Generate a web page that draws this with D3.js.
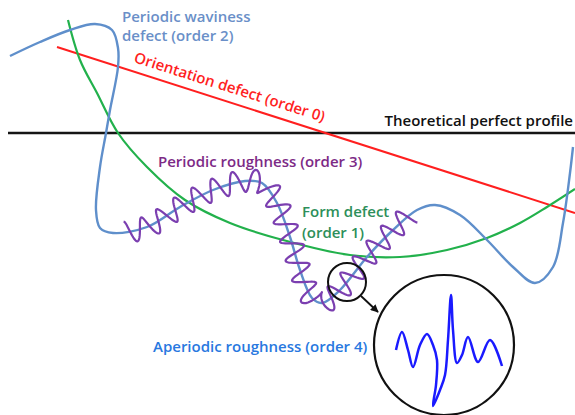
<!DOCTYPE html>
<html lang="en">
<head>
	<meta charset="UTF-8">
	<title>Profile defects</title>
	<style>
		body { margin: 0; background: #fff; }
		.lbl {
			font-family: "Open Sans", Lato, sans-serif;
			font-weight: 600;
			font-size: 15px;
		}
	</style>
	<script src="https://d3js.org/d3.v7.min.js"></script>
</head>
<body>
	<script type="text/javascript">

		// profile units: x along the surface, y = deviation from the theoretical profile
		var theoretical = [[1.6, 0], [115, 0]];
		var orientation = [[11.4, 17.2], [115, -16]];
		var form = [[13.6, 22.6], [16, 14.6], [19.4, 8], [23.6, 0], [29.4, -6.8], [37, -13.4],
			[46, -18], [56.6, -21.4], [70, -24.4], [80, -24.8], [89.4, -23.4], [97.4, -21],
			[104, -18], [109.4, -14.8], [115, -11.2]];
		var waviness = [[2, 15.4], [8, 18.2], [14, 20.6], [19, 21.8], [22.4, 20.6], [23.6, 17],
			[23.6, 13.2], [22, 4.6], [21.2, 0], [20, -6.8], [19.2, -15.4], [20, -19],
			[22.6, -20], [29.4, -18.8], [36, -14.8], [42.6, -11.4], [49, -9.6], [52.4, -10],
			[55.4, -14], [58, -20.8], [60, -27.4], [62.4, -33], [64.4, -34], [68, -31.4],
			[73.4, -24.8], [78.6, -19.4], [83.4, -15.4], [87, -14.4], [92, -16.4], [97.4, -21.4],
			[102.6, -26.8], [107, -30], [110.6, -26.8], [112.6, -18], [114, -8], [114.6, -2.8]];
		// periodic roughness rides on the waviness between these two points
		var roughStart = [25, -19.6],
			roughEnd = [82.4, -16.2],
			roughCycles = 20.5,
			roughAmp = 2.2;
		var aperiodic = [[79.2, -43.4], [80.4, -39.8], [81.6, -43.4], [82.6, -46.8], [84, -42.4],
			[85.4, -40.2], [86.6, -42.4], [87.4, -45.4], [87.2, -50.4], [86.6, -54.6], [88, -51.4],
			[89, -48.4], [89.6, -41.4], [90.2, -32.4], [90.6, -39.4], [91.4, -46], [92.4, -44.4],
			[93.6, -40.8], [95.6, -45.8], [98, -41.4], [100.4, -46.6]];
		var lensSmall = {c: [69.4, -29.8], r: 3.8};
		var lensBig = {c: [88.8, -42.4], r: 14};
		var arrow = [[72.2, -32.6], [75.6, -35.8]];

		var labels = [
			{t: "Periodic waviness", p: [24.4, 22.2], col: "#6a8fc8"},
			{t: "defect (order 2)", p: [24.4, 18.4], col: "#6a8fc8"},
			{t: "Theoretical perfect profile", p: [114.6, 1.4], col: "#111", end: true},
			{t: "Orientation defect (order 0)", p: [26.6, 14.2], col: "#ff1f1f", rot: 17.5},
			{t: "Periodic roughness (order 3)", p: [31.6, -6.8], col: "#7d2a86"},
			{t: "Form defect", p: [60.4, -16.7], col: "#2d8f5a"},
			{t: "(order 1)", p: [60.4, -20.9], col: "#2d8f5a"},
			{t: "Aperiodic roughness (order 4)", p: [30.6, -43.8], col: "#2878e0"}
		];

		const w = 575,
			  h = 415;

		const svg = d3.select("body")
			.append("svg")
			.attr("width", w)
			.attr("height", h);

		var x = d3.scaleLinear().domain([0, 115]).range([0, w]);
		var y = d3.scaleLinear().domain([26.6, -56.4]).range([0, h]);

		var line = d3.line().x(d => x(d[0])).y(d => y(d[1]));
		var smooth = d3.line().x(d => x(d[0])).y(d => y(d[1])).curve(d3.curveCatmullRom.alpha(0.5));

		svg.append("defs").append("marker")
			.attr("id", "head")
			.attr("viewBox", "0 0 10 10")
			.attr("refX", 9).attr("refY", 5)
			.attr("markerUnits", "userSpaceOnUse")
			.attr("markerWidth", 8).attr("markerHeight", 8)
			.attr("orient", "auto")
			.append("path").attr("d", "M0,0 L10,5 L0,10 z").attr("fill", "#111");

		svg.append("path").attr("d", line(theoretical))
			.attr("stroke", "#151515").attr("stroke-width", 2.5).attr("fill", "none");

		svg.append("path").attr("d", line(orientation))
			.attr("stroke", "#ff1f1f").attr("stroke-width", 2).attr("fill", "none");

		svg.append("path").attr("d", smooth(form))
			.attr("stroke", "#22b14c").attr("stroke-width", 2.2).attr("fill", "none");

		var wavy = svg.append("path").attr("d", smooth(waviness))
			.attr("stroke", "#5f8fcb").attr("stroke-width", 2.4).attr("fill", "none");

		// roughness: sine offset along the normal of the waviness path
		var node = wavy.node(),
			total = node.getTotalLength();
		function nearest(pt) {
			var px = x(pt[0]), py = y(pt[1]), best = 0, bd = Infinity;
			for (let s = 0; s <= total; s += 0.5) {
				let q = node.getPointAtLength(s),
					d = (q.x - px) * (q.x - px) + (q.y - py) * (q.y - py);
				if (d < bd) { bd = d; best = s; }
			}
			return best;
		}
		var s0 = nearest(roughStart), s1 = nearest(roughEnd),
			lambda = (s1 - s0) / roughCycles,
			amp = y(0) - y(roughAmp);
		var rough = [];
		for (let s = s0; s <= s1; s += 0.7) {
			let a = node.getPointAtLength(Math.max(0, s - 0.5)),
				b = node.getPointAtLength(Math.min(total, s + 0.5)),
				p = node.getPointAtLength(s),
				tx = b.x - a.x, ty = b.y - a.y, n = Math.hypot(tx, ty) || 1,
				off = amp * Math.cos(2 * Math.PI * (s - s0) / lambda);
			rough.push([p.x + off * ty / n, p.y - off * tx / n]);
		}
		svg.append("path").attr("d", d3.line()(rough))
			.attr("stroke", "#7b3fb0").attr("stroke-width", 2.2).attr("fill", "none")
			.attr("stroke-linejoin", "round");

		// lens + zoomed aperiodic roughness
		svg.append("circle")
		   .attr("cx", x(lensSmall.c[0])).attr("cy", y(lensSmall.c[1]))
		   .attr("r", x(lensSmall.r) - x(0))
		   .attr("fill", "none").attr("stroke", "#111").attr("stroke-width", 2);
		svg.append("path").attr("d", line(arrow))
			.attr("stroke", "#111").attr("stroke-width", 1.8).attr("marker-end", "url(#head)");
		svg.append("circle")
		   .attr("cx", x(lensBig.c[0])).attr("cy", y(lensBig.c[1]))
		   .attr("r", x(lensBig.r) - x(0))
		   .attr("fill", "#fff").attr("stroke", "#111").attr("stroke-width", 2.2);
		svg.append("path").attr("d", smooth(aperiodic))
			.attr("stroke", "#1a1aff").attr("stroke-width", 2.5).attr("fill", "none")
			.attr("stroke-linejoin", "round");

		svg.append("g").selectAll("text")
		   .data(labels).enter()
		   .append("text")
		   .attr("class", "lbl")
		   .attr("transform", d => "translate(" + x(d.p[0]) + "," + y(d.p[1]) + ")" + (d.rot ? " rotate(" + d.rot + ")" : ""))
		   .attr("text-anchor", d => d.end ? "end" : "start")
		   .attr("fill", d => d.col)
		   .text(d => d.t);

	</script>
</body>
</html>
